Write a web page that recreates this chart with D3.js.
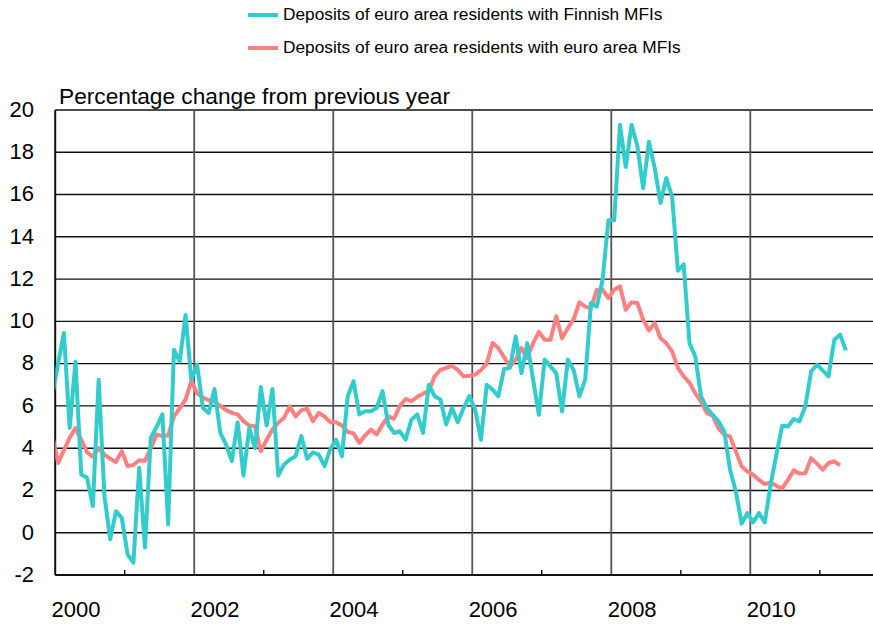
<!DOCTYPE html>
<html>
<head>
<meta charset="utf-8">
<script src="https://cdn.jsdelivr.net/npm/d3@7"></script>
<style>
  body { margin: 0; background: #fff; }
  svg { display: block; font-family: "Liberation Sans", Arial, sans-serif; }
</style>
</head>
<body>
<svg id="chart" width="873" height="628"></svg>
<script>
// monthly values, first point is Dec 1999 (plotted mid-month)
const finnishMFIs = [
  6.5, 8.0, 9.45, 4.96, 8.1, 2.75, 2.6, 1.26, 7.24, 1.73, -0.31, 1.02,
  0.7, -1.02, -1.42, 3.07, -0.7, 4.49, 5.0, 5.6, 0.4, 8.66, 8.1, 10.3,
  7.24, 7.95, 5.9, 5.67, 6.8, 4.72, 4.17, 3.39, 5.23, 2.7, 4.96, 4.0,
  6.9, 5.07, 6.8, 2.7, 3.23, 3.46, 3.62, 4.57, 3.5, 3.8, 3.7, 3.15,
  3.97, 4.4, 3.62, 6.46, 7.17, 5.6, 5.75, 5.75, 5.9, 6.7, 5.12, 4.72,
  4.8, 4.4, 5.35, 5.6, 4.72, 7.0, 6.46, 6.3, 5.12, 5.9, 5.23, 5.9,
  6.46, 5.83, 4.4, 7.0, 6.77, 6.46, 7.75, 7.8, 9.29, 7.55, 8.97, 7.25,
  5.58, 8.19, 7.87, 7.55, 5.74, 8.19, 7.7, 6.45, 7.24, 10.87, 10.7, 11.97,
  14.78, 14.78, 19.3, 17.3, 19.3, 18.3, 16.3, 18.5, 17.25, 15.6, 16.78, 15.9,
  12.4, 12.7, 8.97, 8.34, 6.45, 5.9, 5.58, 5.27, 4.8, 2.98, 1.96, 0.43,
  0.93, 0.49, 0.93, 0.49, 2.27, 3.69, 5.06, 5.03, 5.38, 5.27, 5.98, 7.63,
  7.95, 7.68, 7.4, 9.13, 9.37, 8.63
];

const euroAreaMFIs = [
  4.6, 3.3, 3.9, 4.5, 4.95, 4.4, 3.8, 3.6, 4.0, 3.7, 3.5, 3.35,
  3.86, 3.15, 3.2, 3.43, 3.4, 4.0, 4.65, 4.57, 4.6, 5.5, 5.9, 6.3,
  7.17, 6.6, 6.4, 6.27, 6.2, 6.0, 5.8, 5.67, 5.6, 5.28, 5.07, 5.04,
  3.86, 4.4, 4.88, 5.2, 5.43, 5.98, 5.5, 5.8, 5.86, 5.28, 5.67, 5.5,
  5.23, 5.23, 5.07, 4.77, 4.7, 4.25, 4.6, 4.88, 4.65, 5.12, 5.5, 5.39,
  6.0, 6.33, 6.22, 6.43, 6.58, 6.7, 7.4, 7.7, 7.8, 7.9, 7.7, 7.4,
  7.43, 7.48, 7.7, 8.0, 8.98, 8.74, 8.3, 7.87, 8.19, 8.74, 8.26, 8.97,
  9.5, 9.13, 9.13, 10.24, 9.2, 9.68, 10.1, 10.9, 10.7, 10.63, 11.5, 11.5,
  11.1, 11.5, 11.66, 10.55, 10.9, 10.87, 10.08, 9.57, 9.92, 9.2, 8.97, 8.58,
  7.8, 7.4, 7.1, 6.6, 6.2, 5.66, 5.54, 4.95, 4.64, 4.56, 3.85, 3.14,
  2.9, 2.74, 2.5, 2.3, 2.38, 2.22, 2.1, 2.5, 2.95, 2.8, 2.82, 3.53,
  3.27, 2.98, 3.3, 3.38, 3.19
];

const yearLabels = [2000, 2002, 2004, 2006, 2008, 2010];
const minorYears = [2001, 2003, 2005, 2007, 2009, 2011];
const yTicks = [-2, 0, 2, 4, 6, 8, 10, 12, 14, 16, 18, 20];

const seriesNames = [
  "Deposits of euro area residents with Finnish MFIs",
  "Deposits of euro area residents with euro area MFIs"
];
const seriesColors = ["#33cccc", "#ff8080"];

const svg = d3.select("#chart");

const width = 873, height = 628;

const x = d3.scaleLinear()
  .domain([2000, 2010])
  .range([55.2, 750.3]);

const y = d3.scaleLinear()
  .domain([-2, 20])
  .range([575, 110]);

// clip for the lines
svg.append("defs").append("clipPath")
  .attr("id", "plot")
  .append("rect")
  .attr("x", x(2000))
  .attr("y", y(20) - 5)
  .attr("width", width - x(2000))
  .attr("height", y(-2) - y(20) + 5);

// horizontal grid
svg.append("g")
  .selectAll("line")
  .data(yTicks)
  .join("line")
    .attr("x1", x(2000))
    .attr("x2", width)
    .attr("y1", d => y(d))
    .attr("y2", d => y(d))
    .attr("stroke", "#111")
    .attr("stroke-width", 1.4);

// vertical grid at even years
svg.append("g")
  .selectAll("line")
  .data(yearLabels.slice(1))
  .join("line")
    .attr("x1", d => x(d))
    .attr("x2", d => x(d))
    .attr("y1", y(20))
    .attr("y2", y(-2))
    .attr("stroke", "#555")
    .attr("stroke-width", 1.8);

// small ticks on odd years
svg.append("g")
  .selectAll("line")
  .data(minorYears)
  .join("line")
    .attr("x1", d => x(d))
    .attr("x2", d => x(d))
    .attr("y1", y(-2))
    .attr("y2", y(-2) - 5)
    .attr("stroke", "#111")
    .attr("stroke-width", 1.4);

// axes lines
svg.append("line")
  .attr("x1", x(2000)).attr("x2", x(2000))
  .attr("y1", y(20)).attr("y2", y(-2))
  .attr("stroke", "#111").attr("stroke-width", 2);
svg.append("line")
  .attr("x1", x(2000)).attr("x2", width)
  .attr("y1", y(-2)).attr("y2", y(-2))
  .attr("stroke", "#111").attr("stroke-width", 2);

// y labels
svg.append("g")
  .selectAll("text")
  .data(yTicks)
  .join("text")
    .attr("x", 34)
    .attr("y", d => y(d) + 1)
    .attr("text-anchor", "end")
    .attr("dominant-baseline", "middle")
    .attr("font-size", 22)
    .attr("fill", "#000")
    .text(d => d);

// x labels
svg.append("g")
  .selectAll("text")
  .data(yearLabels)
  .join("text")
    .attr("x", d => x(d + 0.3))
    .attr("y", 617)
    .attr("text-anchor", "middle")
    .attr("font-size", 22)
    .attr("fill", "#000")
    .text(d => d);

// unit title
svg.append("text")
  .attr("x", 59)
  .attr("y", 104)
  .attr("font-size", 22.7)
  .attr("fill", "#000")
  .text("Percentage change from previous year");

// lines
const monthPos = i => 2000 + (i - 1 + 0.5) / 12;

const line = d3.line()
  .x((d, i) => x(monthPos(i)))
  .y(d => y(d));

const lines = svg.append("g").attr("clip-path", "url(#plot)");

lines.append("path")
  .datum(euroAreaMFIs)
  .attr("fill", "none")
  .attr("stroke", seriesColors[1])
  .attr("stroke-width", 4)
  .attr("stroke-linejoin", "round")
  .attr("d", line);

lines.append("path")
  .datum(finnishMFIs)
  .attr("fill", "none")
  .attr("stroke", seriesColors[0])
  .attr("stroke-width", 4)
  .attr("stroke-linejoin", "round")
  .attr("d", line);

// legend
const legend = svg.append("g")
  .selectAll("g")
  .data(seriesNames)
  .join("g")
    .attr("transform", (d, i) => `translate(248, ${15 + i * 33})`);

legend.append("line")
  .attr("x1", 0).attr("x2", 30)
  .attr("y1", 0).attr("y2", 0)
  .attr("stroke", (d, i) => seriesColors[i])
  .attr("stroke-width", 4);

legend.append("text")
  .attr("x", 35)
  .attr("y", 0)
  .attr("dominant-baseline", "middle")
  .attr("font-size", 17.3)
  .attr("fill", "#000")
  .text(d => d);
</script>
</body>
</html>
